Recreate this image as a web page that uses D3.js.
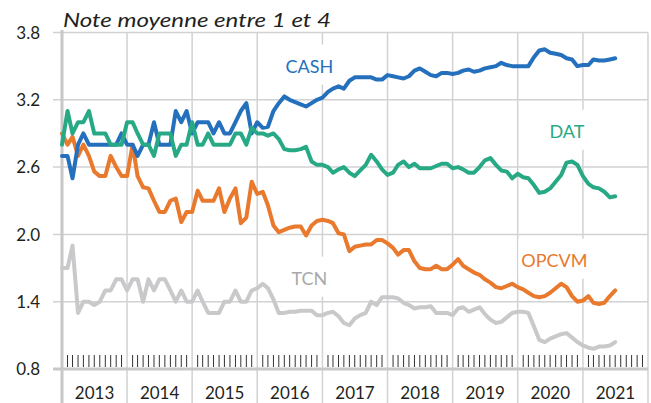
<!DOCTYPE html>
<html>
<head>
<meta charset="utf-8">
<script src="https://cdn.jsdelivr.net/npm/d3@7/dist/d3.min.js"></script>
<style>
  body { margin: 0; background: #fff; }
  svg { display: block; font-family: Lato, "Open Sans", sans-serif; }
</style>
</head>
<body>
<svg id="chart" width="651" height="403"></svg>
<script>
// ---- Data (monthly, starting January 2013) ----
const startMonth = "2013-01";
const yearLabels = ["2013","2014","2015","2016","2017","2018","2019","2020","2021"];
const yTicks = [0.8, 1.4, 2.0, 2.6, 3.2, 3.8];
const titleText = "Note moyenne entre 1 et 4";

const cash = [2.7,2.7,2.5,2.8,2.9,2.8,2.8,2.8,2.8,2.8,2.8,2.9,
  2.8,2.8,2.7,2.8,2.8,3.0,2.8,2.8,2.8,3.1,3.0,3.1,
  2.9,3.0,3.0,3.0,2.9,3.0,2.9,2.9,3.0,3.1,3.17,2.9,
  3.0,2.95,2.96,3.1,3.17,3.23,3.2,3.18,3.16,3.14,3.17,3.2,
  3.22,3.27,3.3,3.32,3.3,3.37,3.4,3.4,3.4,3.4,3.38,3.38,
  3.42,3.41,3.4,3.39,3.41,3.46,3.48,3.45,3.42,3.41,3.44,3.44,
  3.43,3.44,3.46,3.47,3.45,3.46,3.48,3.49,3.5,3.53,3.51,3.5,
  3.5,3.5,3.5,3.58,3.64,3.65,3.62,3.61,3.6,3.57,3.56,3.5,
  3.51,3.51,3.56,3.55,3.55,3.56,3.57];

const dat = [2.8,3.1,2.9,3.0,3.0,3.1,2.9,2.9,2.9,2.8,2.8,2.8,
  3.0,3.0,2.9,2.8,2.8,2.7,2.9,2.9,2.9,2.7,2.8,2.8,
  3.0,2.8,2.8,2.9,2.8,2.8,2.8,2.8,2.9,2.9,2.8,2.95,
  2.9,2.9,2.88,2.9,2.85,2.76,2.75,2.75,2.76,2.78,2.65,2.62,
  2.62,2.6,2.55,2.58,2.6,2.55,2.52,2.57,2.62,2.71,2.65,2.58,
  2.53,2.55,2.62,2.65,2.6,2.63,2.59,2.59,2.59,2.61,2.63,2.63,
  2.59,2.6,2.58,2.55,2.55,2.6,2.66,2.68,2.62,2.57,2.56,2.5,
  2.54,2.51,2.5,2.44,2.37,2.38,2.41,2.47,2.53,2.64,2.65,2.62,
  2.52,2.45,2.42,2.41,2.38,2.33,2.34];

const opcvm = [2.9,2.8,2.87,2.7,2.8,2.7,2.56,2.52,2.52,2.7,2.6,2.52,
  2.52,2.8,2.52,2.42,2.41,2.3,2.2,2.2,2.3,2.32,2.11,2.2,
  2.2,2.39,2.3,2.3,2.3,2.41,2.2,2.32,2.41,2.1,2.15,2.47,
  2.36,2.38,2.26,2.08,2.02,2.04,2.06,2.07,2.07,1.99,2.08,2.12,
  2.13,2.12,2.1,2.01,2.0,1.85,1.89,1.9,1.91,1.91,1.95,1.95,
  1.92,1.88,1.82,1.86,1.86,1.76,1.7,1.69,1.69,1.72,1.69,1.69,
  1.73,1.78,1.72,1.69,1.66,1.64,1.6,1.57,1.53,1.52,1.54,1.56,
  1.53,1.51,1.48,1.45,1.44,1.45,1.48,1.52,1.56,1.53,1.45,1.4,
  1.41,1.45,1.39,1.38,1.39,1.45,1.5];

const tcn = [1.7,1.7,1.9,1.3,1.4,1.4,1.37,1.4,1.5,1.5,1.6,1.6,
  1.5,1.6,1.6,1.4,1.6,1.5,1.6,1.6,1.5,1.4,1.5,1.4,
  1.4,1.5,1.4,1.3,1.3,1.3,1.4,1.4,1.5,1.4,1.4,1.5,
  1.52,1.56,1.52,1.42,1.3,1.3,1.31,1.31,1.32,1.32,1.32,1.28,
  1.28,1.3,1.31,1.27,1.21,1.19,1.25,1.28,1.3,1.4,1.37,1.44,
  1.44,1.44,1.43,1.39,1.37,1.34,1.35,1.35,1.36,1.3,1.3,1.3,
  1.28,1.34,1.35,1.31,1.33,1.35,1.29,1.24,1.21,1.22,1.26,1.3,
  1.31,1.31,1.3,1.18,1.06,1.04,1.07,1.09,1.11,1.12,1.08,1.04,
  1.01,0.99,0.98,1.0,1.0,1.01,1.04];

const seriesNames = ["TCN", "OPCVM", "CASH", "DAT"];
const seriesValues = [tcn, opcvm, cash, dat];
const seriesColors = ["#c9c9cb", "#e8792d", "#2470bd", "#28a985"];
const labelColors = ["#a9a9ab", "#e8792d", "#2470bd", "#28a985"];
// label anchor positions given in data space (date, value)
const labelDates = ["2016-10-20", "2020-07-25", "2016-10-20", "2020-10-03"];
const labelValues = [1.61, 1.77, 3.50, 2.92];

// ---- Chart ----
const svg = d3.select("#chart");
const parseMonth = d3.timeParse("%Y-%m");
const parseDay = d3.timeParse("%Y-%m-%d");
const start = parseMonth(startMonth);
const dates = cash.map((_, i) => d3.timeMonth.offset(start, i));

const x = d3.scaleTime()
  .domain([new Date(2013, 0, 1), new Date(2022, 0, 1)])
  .range([62, 648]);
const y = d3.scaleLinear().domain([0.8, 3.8]).range([369, 32.5]);

const gridColor = "#d2d2d4";
const axisColor = "#c8c8ca";
const textColor = "#231f20";

// horizontal gridlines (with small left ticks)
svg.append("g").selectAll("line").data(yTicks).join("line")
  .attr("x1", 53).attr("x2", 648)
  .attr("y1", d => y(d)).attr("y2", d => y(d))
  .attr("stroke", gridColor).attr("stroke-width", 1.5);

// vertical year gridlines
const yearStarts = d3.timeYear.range(new Date(2014, 0, 1), new Date(2022, 0, 2));
svg.append("g").selectAll("line").data(yearStarts).join("line")
  .attr("x1", d => x(d)).attr("x2", d => x(d))
  .attr("y1", y(3.8)).attr("y2", 403)
  .attr("stroke", gridColor).attr("stroke-width", 1.5);

// y tick labels
svg.append("g").selectAll("text").data(yTicks).join("text")
  .attr("x", 40).attr("y", d => y(d))
  .attr("dy", "0.36em")
  .attr("text-anchor", "end")
  .attr("font-size", 17).attr("fill", textColor)
  .text(d => d.toFixed(1));

// year labels (centered in each year)
svg.append("g").selectAll("text").data(yearLabels).join("text")
  .attr("x", d => (x(new Date(+d, 0, 1)) + x(new Date(+d + 1, 0, 1))) / 2)
  .attr("y", 399)
  .attr("text-anchor", "middle")
  .attr("font-size", 17).attr("fill", textColor)
  .text(d => d);

// monthly minor ticks (skip January where a year line is)
const months = d3.timeMonth.range(new Date(2013, 0, 1), new Date(2022, 0, 1))
  .filter(d => d.getMonth() !== 0);
svg.append("g").selectAll("line").data(months).join("line")
  .attr("x1", d => x(d)).attr("x2", d => x(d))
  .attr("y1", 355).attr("y2", 367)
  .attr("stroke", "#333").attr("stroke-width", 1);

// axis lines (left & bottom)
svg.append("line").attr("x1", 62).attr("x2", 62).attr("y1", 30).attr("y2", 403)
  .attr("stroke", axisColor).attr("stroke-width", 3);
svg.append("line").attr("x1", 53).attr("x2", 648).attr("y1", y(0.8)).attr("y2", y(0.8))
  .attr("stroke", axisColor).attr("stroke-width", 3);

// label background boxes (mask gridlines)
const labelG = svg.append("g");
const labelNodes = seriesNames.map((name, k) => {
  const t = labelG.append("text")
    .attr("x", x(parseDay(labelDates[k])))
    .attr("y", y(labelValues[k]))
    .attr("text-anchor", "middle")
    .attr("dy", "0.36em")
    .attr("font-size", 18)
    .attr("fill", labelColors[k])
    .text(name);
  return t;
});
labelNodes.forEach(t => {
  const b = t.node().getBBox();
  labelG.insert("rect", "text")
    .attr("x", b.x - 3).attr("y", b.y - 10)
    .attr("width", b.width + 6).attr("height", b.height + 18)
    .attr("fill", "#fff");
});

// lines
const line = d3.line()
  .x((d, i) => x(dates[i]))
  .y(d => y(d));
svg.append("g").selectAll("path").data(seriesValues).join("path")
  .attr("d", d => line(d))
  .attr("fill", "none")
  .attr("stroke", (d, k) => seriesColors[k])
  .attr("stroke-width", 4)
  .attr("stroke-linejoin", "round")
  .attr("stroke-linecap", "round");

// title
svg.append("text")
  .attr("x", 63).attr("y", 27)
  .attr("font-size", 20).attr("font-style", "italic")
  .attr("textLength", 268).attr("lengthAdjust", "spacingAndGlyphs")
  .attr("fill", textColor)
  .text(titleText);
</script>
</body>
</html>
